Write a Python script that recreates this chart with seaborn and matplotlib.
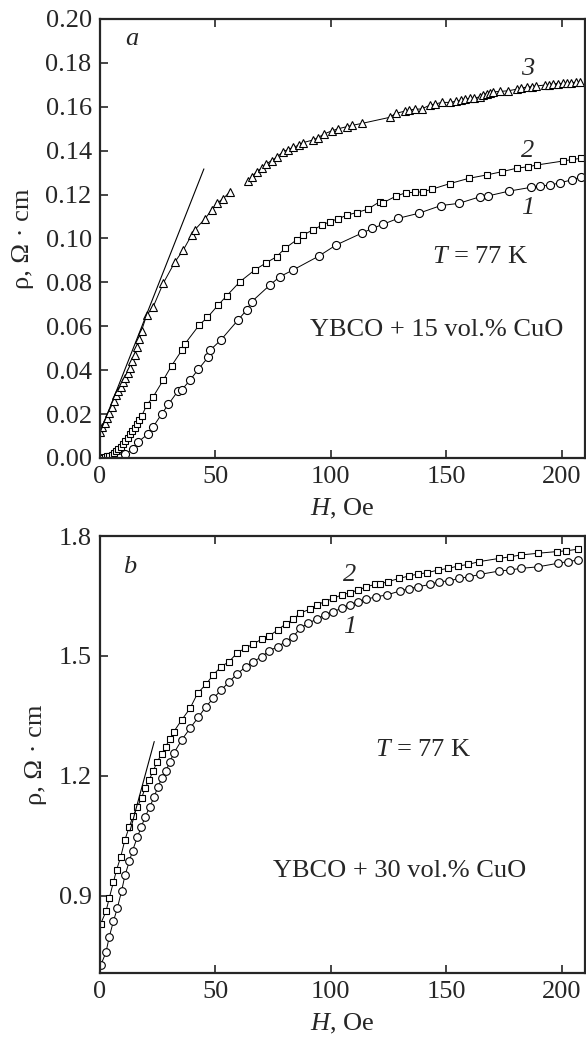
import matplotlib
matplotlib.use("Agg")
import matplotlib.pyplot as plt
import seaborn as sns
import pandas as pd

# ---- panel a: YBCO + 15 vol.% CuO ----
H1 = [0, 3, 6, 8, 11, 14.4, 16.6, 20.9, 23.1, 26.7, 29.6, 33.9, 35.4, 39.0, 42.6, 46.9, 47.6,
      52.4, 59.9, 63.5, 65.7, 73.6, 77.9, 83.7, 94.8, 102.2, 113.3, 118.0, 122.4, 129.2, 138.1,
      147.6, 155.4, 164.5, 168.1, 177.2, 186.6, 190.5, 194.8, 199.1, 204.5, 208.2]
rho1 = [0, 0, 0, 0.0005, 0.002, 0.004, 0.0074, 0.011, 0.0143, 0.020, 0.0244, 0.0307, 0.031,
        0.0355, 0.0404, 0.046, 0.049, 0.0538, 0.063, 0.0674, 0.0712, 0.0788, 0.0826, 0.0857,
        0.092, 0.097, 0.1024, 0.1046, 0.1064, 0.1092, 0.1115, 0.115, 0.116, 0.119, 0.1194,
        0.1216, 0.1233, 0.124, 0.1242, 0.1254, 0.1267, 0.128]

H2 = [0, 1, 2, 3, 4, 5, 6, 7, 8, 9, 10, 11, 12, 13, 14, 15, 16, 17, 18, 20.2, 23.1, 27.4,
      31.0, 35.4, 36.8, 43.0, 46.5, 51.2, 54.8, 60.6, 67.1, 72.1, 76.5, 80.1, 85.1, 88.0, 92.4,
      96.0, 99.6, 103.2, 107.1, 111.1, 115.9, 121.2, 122.6, 128.4, 132.7, 136.4, 140.0, 143.6,
      151.5, 159.7, 167.7, 173.9, 180.4, 185.4, 189.3, 200.6, 204.6, 208.2]
rho2 = [0, 0.0002, 0.0004, 0.0007, 0.001, 0.0015, 0.0022, 0.003, 0.004, 0.0052, 0.0065,
        0.0079, 0.0093, 0.0107, 0.0122, 0.0138, 0.0155, 0.0172, 0.019, 0.024, 0.028, 0.0355,
        0.042, 0.049, 0.052, 0.0606, 0.064, 0.0697, 0.0738, 0.0803, 0.0857, 0.089, 0.0917,
        0.0955, 0.0993, 0.1016, 0.104, 0.106, 0.1077, 0.109, 0.1107, 0.1118, 0.1133, 0.1168,
        0.1163, 0.1194, 0.1209, 0.121, 0.1213, 0.1224, 0.125, 0.1274, 0.129, 0.1304, 0.132,
        0.1327, 0.1335, 0.1353, 0.136, 0.1365]

# curve 3 is drawn in two pieces (the line is broken near 60 Oe)
H3a = [0, 1, 2, 3, 4, 5, 6, 7, 8, 9, 10, 11, 12, 13, 14, 15, 16, 17, 18, 20.2, 23.1, 27.4,
       32.5, 36.1, 39.7, 41.1, 45.5, 48.3, 50.5, 53.2, 56.3]
rho3a = [0.012, 0.014, 0.016, 0.018, 0.0205, 0.023, 0.026, 0.0285, 0.0305, 0.0325, 0.0345,
         0.0365, 0.0385, 0.041, 0.044, 0.047, 0.0505, 0.054, 0.058, 0.065, 0.069, 0.0796,
         0.0894, 0.0948, 0.1016, 0.104, 0.109, 0.113, 0.116, 0.118, 0.1213]
H3b = [64.2, 65.7, 67.8, 70.0, 72.1, 74.3, 76.5, 79.4, 81.5, 83.7, 86.0, 88.0, 92.4, 94.5,
       97.0, 100.3, 103.2, 107.1, 109.0, 113.3, 125.5, 128.0, 132.0, 134.0, 136.4, 139.3,
       142.9, 145.0, 147.9, 151.5, 154.0, 156.5, 158.0, 160.2, 162.0, 164.5, 166.0, 167.4,
       168.8, 170.3, 173.2, 176.8, 180.4, 182.5, 184.8, 187.0, 189.0, 192.6, 194.5, 196.2,
       198.5, 200.6, 202.3, 204.1, 206.0, 207.8]
rho3b = [0.126, 0.128, 0.1305, 0.132, 0.134, 0.1355, 0.137, 0.1396, 0.1405, 0.1415, 0.1425,
         0.1437, 0.1449, 0.146, 0.1476, 0.149, 0.150, 0.151, 0.1515, 0.1524, 0.1552, 0.157,
         0.158, 0.1585, 0.1589, 0.159, 0.1608, 0.1612, 0.162, 0.162, 0.1625, 0.163, 0.1635,
         0.1638, 0.164, 0.1645, 0.1655, 0.166, 0.1664, 0.1668, 0.167, 0.1673, 0.168, 0.1685,
         0.169, 0.1692, 0.1695, 0.1699, 0.170, 0.1705, 0.1706, 0.1707, 0.1708, 0.171, 0.1712,
         0.1714]

fit3_H = [0, 45]
fit3_rho = [0.0115, 0.1317]

# ---- panel b: YBCO + 30 vol.% CuO ----
Hb1 = [0.3, 2.6, 4.0, 5.8, 7.5, 9.4, 10.8, 12.7, 14.1, 16.2, 17.9, 19.6, 21.6, 23.4, 25.1,
       26.8, 28.6, 30.3, 32.0, 35.4, 39.0, 42.6, 45.9, 49.0, 52.6, 56.0, 59.4, 63.1, 66.4, 70.0,
       73.3, 76.9, 80.4, 83.7, 86.6, 90.2, 93.8, 97.4, 101.0, 104.6, 108.2, 111.8, 115.4, 119.5,
       124.1, 129.9, 133.7, 137.8, 142.9, 146.9, 151.2, 155.5, 159.9, 164.5, 172.9, 177.5,
       182.1, 189.8, 198.4, 202.7, 207.0]
rhob1 = [0.726, 0.759, 0.797, 0.836, 0.869, 0.913, 0.951, 0.986, 1.013, 1.047, 1.073, 1.098,
         1.123, 1.147, 1.173, 1.194, 1.213, 1.236, 1.257, 1.29, 1.319, 1.347, 1.373, 1.394,
         1.415, 1.436, 1.455, 1.473, 1.486, 1.498, 1.513, 1.523, 1.536, 1.548, 1.569, 1.582,
         1.592, 1.6025, 1.611, 1.619, 1.6275, 1.636, 1.642, 1.648, 1.6525, 1.6625, 1.668,
         1.673, 1.679, 1.686, 1.6875, 1.694, 1.698, 1.704, 1.7125, 1.715, 1.719, 1.723, 1.732,
         1.736, 1.74]

Hb2 = [0.3, 2.6, 4.0, 5.8, 7.2, 9.0, 10.8, 12.7, 14.4, 16.2, 18.0, 19.5, 21.3, 23.1, 24.8,
       26.7, 28.4, 30.3, 32.0, 35.4, 39.0, 42.3, 45.9, 49.0, 52.4, 56.0, 59.4, 62.8, 66.4, 70.0,
       73.3, 76.9, 80.4, 83.7, 86.6, 90.9, 93.8, 97.4, 101.0, 104.6, 108.2, 111.8, 115.4, 119.0,
       121.2, 124.8, 129.6, 133.7, 137.8, 141.4, 146.5, 150.8, 155.1, 159.4, 164.2, 172.9,
       177.5, 182.1, 189.8, 197.7, 201.7, 207.0]
rhob2 = [0.83, 0.861, 0.894, 0.934, 0.965, 0.998, 1.04, 1.073, 1.10, 1.123, 1.144, 1.169,
         1.19, 1.213, 1.236, 1.254, 1.273, 1.2925, 1.311, 1.34, 1.369, 1.407, 1.429, 1.4525,
         1.473, 1.486, 1.508, 1.519, 1.53, 1.542, 1.55, 1.565, 1.58, 1.592, 1.607, 1.617,
         1.6275, 1.636, 1.644, 1.6525, 1.658, 1.665, 1.673, 1.679, 1.68, 1.686, 1.694, 1.70,
         1.705, 1.708, 1.715, 1.719, 1.725, 1.729, 1.736, 1.744, 1.748, 1.7525, 1.757, 1.761,
         1.763, 1.767]

fitb_H = [13, 23.5]
fitb_rho = [1.062, 1.286]

sns.set_style("ticks")
plt.rcParams["font.family"] = ["Liberation Serif", "DejaVu Serif"]
plt.rcParams["mathtext.fontset"] = "custom"
plt.rcParams["mathtext.rm"] = "Liberation Serif"
plt.rcParams["mathtext.it"] = "Liberation Serif:italic"

fig = plt.figure(figsize=(5.86, 10.38), dpi=100)
ax_a = fig.add_axes([0.1706, 0.5588, 0.8276, 0.4229])
ax_b = fig.add_axes([0.1706, 0.0626, 0.8276, 0.4210])

FS = 19
line_kw = dict(color="black", lw=0.7, estimator=None, sort=False)
mk_kw = dict(markerfacecolor="white", markeredgecolor="black", markeredgewidth=0.8)


def curve(ax, h, r, marker, ms):
    df = pd.DataFrame({"H": h, "rho": r})
    sns.lineplot(data=df, x="H", y="rho", ax=ax, marker=marker, markersize=ms,
                 **line_kw, **mk_kw)


# panel a
curve(ax_a, H1, rho1, "o", 5.8)
curve(ax_a, H2, rho2, "s", 5.0)
curve(ax_a, H3a, rho3a, "^", 6.0)
curve(ax_a, H3b, rho3b, "^", 6.0)
sns.lineplot(x=fit3_H, y=fit3_rho, ax=ax_a, color="black", lw=0.8, estimator=None, sort=False)

ax_a.set_xlim(0, 210)
ax_a.set_ylim(0, 0.2)
ax_a.set_yticks([0.00, 0.02, 0.04, 0.06, 0.08, 0.10, 0.12, 0.14, 0.16, 0.18, 0.20])
ax_a.set_yticklabels([f"{v:.2f}" for v in ax_a.get_yticks()])
ax_a.text(13.7, 0.191, "a", fontsize=FS, style="italic", ha="center", va="center")
ax_a.text(185, 0.177, "3", fontsize=FS, style="italic", ha="center", va="center")
ax_a.text(185, 0.140, "2", fontsize=FS, style="italic", ha="center", va="center")
ax_a.text(185, 0.114, "1", fontsize=FS, style="italic", ha="center", va="center")
ax_a.text(164.5, 0.0917, "$T$ = 77 K", fontsize=FS, ha="center", va="center")
ax_a.text(145.7, 0.0583, "YBCO + 15 vol.% CuO", fontsize=FS, ha="center", va="center")

# panel b
curve(ax_b, Hb1, rhob1, "o", 5.5)
curve(ax_b, Hb2, rhob2, "s", 5.0)
sns.lineplot(x=fitb_H, y=fitb_rho, ax=ax_b, color="black", lw=0.8, estimator=None, sort=False)

ax_b.set_xlim(0, 210)
ax_b.set_ylim(0.707, 1.8)
ax_b.set_yticks([0.9, 1.2, 1.5, 1.8])
ax_b.set_yticklabels([f"{v:.1f}" for v in ax_b.get_yticks()])
ax_b.text(13, 1.723, "b", fontsize=FS, style="italic", ha="center", va="center")
ax_b.text(108.2, 1.7025, "2", fontsize=FS, style="italic", ha="center", va="center")
ax_b.text(108.2, 1.573, "1", fontsize=FS, style="italic", ha="center", va="center")
ax_b.text(140, 1.265, "$T$ = 77 K", fontsize=FS, ha="center", va="center")
ax_b.text(129.9, 0.961, "YBCO + 30 vol.% CuO", fontsize=FS, ha="center", va="center")

for ax in (ax_a, ax_b):
    ax.set_xticks([0, 50, 100, 150, 200])
    ax.tick_params(direction="in", length=6, width=1.2, labelsize=FS, top=True, right=False,
                   pad=6)
    for sp in ax.spines.values():
        sp.set_visible(True)
        sp.set_linewidth(1.6)
    ax.set_xlabel("$H$, Oe", fontsize=FS, labelpad=6)
    ax.set_ylabel("ρ, Ω · cm", fontsize=FS, labelpad=8)

plt.savefig("out.png", dpi=100)
